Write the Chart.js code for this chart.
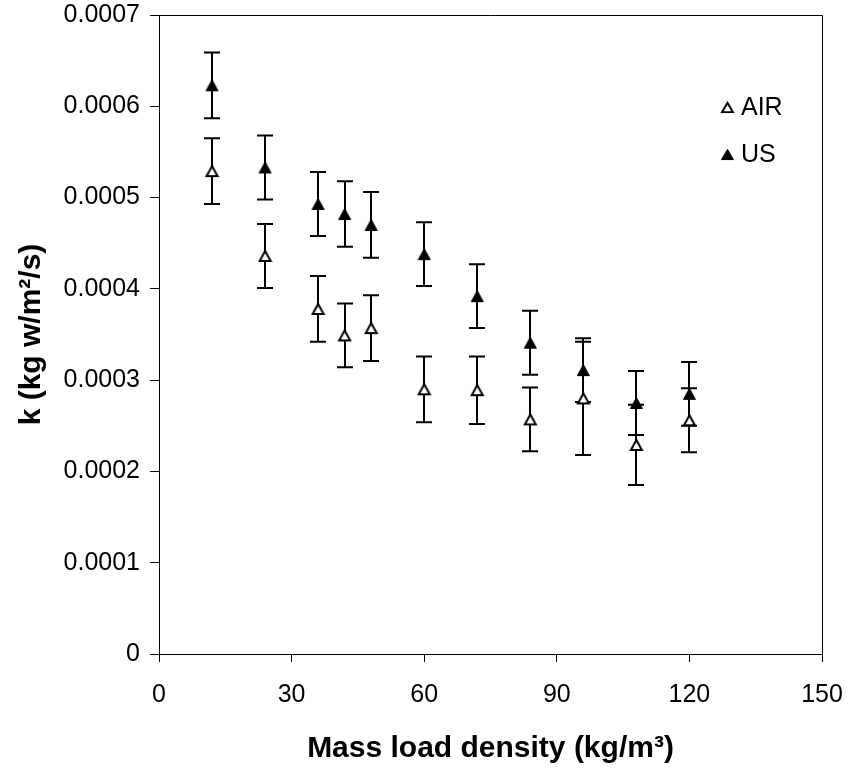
<!DOCTYPE html>
<html>
<head>
<meta charset="utf-8">
<script src="https://cdn.jsdelivr.net/npm/chart.js@4.4.1/dist/chart.umd.min.js"></script>
<style>
  body { margin: 0; background: #fff; }
  #wrap { width: 849px; height: 775px; }
</style>
</head>
<body>
<div id="wrap"><canvas id="kChart" width="849" height="775"></canvas></div>
<script>
// mass load density (kg/m3)
const loadDensity = [12, 24, 36, 42, 48, 60, 72, 84, 96, 108, 120];

// drying constant k, AIR series
const airK = [0.000529, 0.000436, 0.000378, 0.000349, 0.000357, 0.000290, 0.000289, 0.000257, 0.000280, 0.000229, 0.000256];
const airErr = [0.000036, 0.000035, 0.000036, 0.000035, 0.000036, 0.000036, 0.000037, 0.000035, 0.000062, 0.000044, 0.000035];

// drying constant k, US series
const usK = [0.000623, 0.000533, 0.000493, 0.000482, 0.000470, 0.000438, 0.000392, 0.000341, 0.000311, 0.000275, 0.000285];
const usErr = [0.000036, 0.000035, 0.000035, 0.000036, 0.000036, 0.000035, 0.000035, 0.000035, 0.000035, 0.000035, 0.000035];

const yTickLabels = ['0', '0.0001', '0.0002', '0.0003', '0.0004', '0.0005', '0.0006', '0.0007'];
const xTickLabels = ['0', '30', '60', '90', '120', '150'];

const FONT = "'Liberation Sans', Arial, sans-serif";

// triangle marker, centred on its box like the spreadsheet markers
function makeTriangle(w, h, fill, lineW) {
    const c = document.createElement('canvas');
    c.width = w + 2;
    c.height = h + 2;
    const g = c.getContext('2d');
    g.beginPath();
    g.moveTo(c.width / 2, 1 + lineW / 2);
    g.lineTo(c.width - 1 - lineW / 2, c.height - 1 - lineW / 2);
    g.lineTo(1 + lineW / 2, c.height - 1 - lineW / 2);
    g.closePath();
    g.fillStyle = fill;
    g.fill();
    g.lineWidth = lineW;
    g.strokeStyle = '#000';
    g.stroke();
    return c;
}

const airMarker = makeTriangle(13, 12, '#fff', 2);
const usMarker = makeTriangle(13, 12, '#000', 1);

function toPoints(xs, ys, errs) {
    return xs.map((x, i) => ({ x: x, y: ys[i], err: errs[i] }));
}

// error bars with caps, drawn under the markers
const errorBars = {
    id: 'errorBars',
    beforeDatasetsDraw(chart) {
        const ctx = chart.ctx;
        const xs = chart.scales.x;
        const ys = chart.scales.y;
        const cap = 8;
        ctx.save();
        ctx.strokeStyle = '#000';
        ctx.lineWidth = 2;
        chart.data.datasets.forEach(ds => {
            ds.data.forEach(p => {
                const px = Math.round(xs.getPixelForValue(p.x));
                const top = ys.getPixelForValue(p.y + p.err);
                const bot = ys.getPixelForValue(p.y - p.err);
                ctx.beginPath();
                ctx.moveTo(px, top);
                ctx.lineTo(px, bot);
                ctx.moveTo(px - cap, top);
                ctx.lineTo(px + cap, top);
                ctx.moveTo(px - cap, bot);
                ctx.lineTo(px + cap, bot);
                ctx.stroke();
            });
        });
        ctx.restore();
    }
};

// box around the plot plus the small legend inside it
const frameAndLegend = {
    id: 'frameAndLegend',
    afterDraw(chart) {
        const ctx = chart.ctx;
        const a = chart.chartArea;
        ctx.save();
        ctx.strokeStyle = '#000';
        ctx.lineWidth = 1;
        ctx.beginPath();
        ctx.moveTo(a.left, a.top + 0.5);
        ctx.lineTo(a.right + 0.5, a.top + 0.5);
        ctx.lineTo(a.right + 0.5, a.bottom);
        ctx.stroke();

        ctx.font = '25px ' + FONT;
        ctx.fillStyle = '#000';
        ctx.textBaseline = 'alphabetic';
        const items = [
            { label: chart.data.datasets[0].label, img: airMarker, y: 115 },
            { label: chart.data.datasets[1].label, img: usMarker, y: 162 }
        ];
        items.forEach(it => {
            ctx.drawImage(it.img, 720, it.y - 14, 15, 13);
            ctx.fillText(it.label, 741, it.y);
        });
        ctx.restore();
    }
};

const ctx = document.getElementById('kChart').getContext('2d');
new Chart(ctx, {
    type: 'scatter',
    data: {
        datasets: [
            {
                label: 'AIR',
                data: toPoints(loadDensity, airK, airErr),
                pointStyle: airMarker,
                pointRadius: 7,
                pointHoverRadius: 7
            },
            {
                label: 'US',
                data: toPoints(loadDensity, usK, usErr),
                pointStyle: usMarker,
                pointRadius: 7,
                pointHoverRadius: 7
            }
        ]
    },
    options: {
        responsive: false,
        animation: false,
        layout: { padding: { top: 15, right: 27, left: 0, bottom: 0 } },
        plugins: {
            legend: { display: false },
            tooltip: { enabled: false }
        },
        scales: {
            x: {
                type: 'linear',
                min: 0,
                max: 150,
                afterFit(scale) {
                    scale.height = 121;
                    scale.paddingLeft = 0;
                    scale.paddingRight = 0;
                },
                afterBuildTicks(scale) {
                    scale.ticks = xTickLabels.map(t => ({ value: Number(t) }));
                },
                ticks: {
                    color: '#000',
                    font: { family: FONT, size: 25 },
                    padding: 18,
                    maxRotation: 0,
                    callback: (v, i) => xTickLabels[i]
                },
                grid: { drawOnChartArea: false, tickLength: 8, color: '#000' },
                border: { color: '#000', width: 1 },
                title: {
                    display: true,
                    text: 'Mass load density (kg/m³)',
                    color: '#000',
                    font: { family: FONT, size: 30, weight: 'bold' },
                    padding: { top: 0, bottom: 8 }
                }
            },
            y: {
                type: 'linear',
                min: 0,
                max: 0.0007,
                afterFit(scale) {
                    scale.width = 159;
                    scale.paddingTop = 0;
                    scale.paddingBottom = 0;
                },
                afterBuildTicks(scale) {
                    scale.ticks = yTickLabels.map(t => ({ value: Number(t) }));
                },
                ticks: {
                    color: '#000',
                    font: { family: FONT, size: 25 },
                    padding: 10,
                    callback: (v, i) => yTickLabels[i]
                },
                grid: { drawOnChartArea: false, tickLength: 9, color: '#000' },
                border: { color: '#000', width: 1 },
                title: {
                    display: true,
                    text: 'k (kg w/m²/s)',
                    color: '#000',
                    font: { family: FONT, size: 30, weight: 'bold' },
                    padding: { top: 14, bottom: 0 }
                }
            }
        }
    },
    plugins: [errorBars, frameAndLegend]
});
</script>
</body>
</html>
